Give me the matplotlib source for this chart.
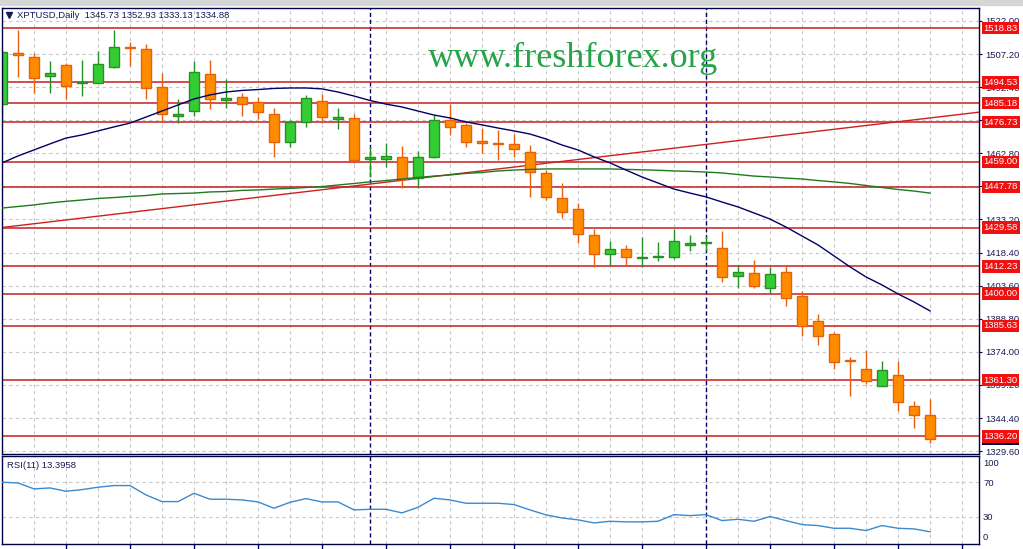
import matplotlib
matplotlib.use("Agg")
import matplotlib.pyplot as plt
from matplotlib.patches import Rectangle
import numpy as np

# ---------------- data ----------------
OPEN = [1484.8, 1507.5, 1505.7, 1497.2, 1502.1, 1494.3, 1494.4, 1501.5, 1510.2, 1509.3,
        1492.3, 1479.3, 1481.6, 1498.3, 1486.6, 1488.1, 1485.6, 1480.2, 1467.7, 1476.9,
        1486.0, 1478.0, 1478.5, 1460.1, 1460.4, 1461.0, 1451.6, 1461.3, 1477.7, 1475.4,
        1468.3, 1467.3, 1466.8, 1463.2, 1453.8, 1442.7, 1437.7, 1426.1, 1417.6, 1419.9,
        1415.8, 1416.3, 1416.3, 1421.9, 1422.6, 1420.3, 1408.1, 1409.1, 1402.5, 1409.6,
        1399.0, 1387.8, 1382.0, 1370.5, 1366.3, 1358.9, 1363.6, 1349.8, 1345.73]
HIGH = [1509.0, 1518.0, 1507.8, 1504.1, 1503.3, 1504.5, 1508.5, 1517.9, 1512.4, 1511.7,
        1498.8, 1487.1, 1504.1, 1504.5, 1496.0, 1489.6, 1488.1, 1482.9, 1477.7, 1488.9,
        1489.3, 1482.9, 1480.4, 1465.8, 1467.3, 1466.1, 1463.8, 1479.9, 1484.8, 1476.2,
        1474.0, 1473.2, 1471.4, 1466.5, 1455.3, 1449.4, 1440.4, 1428.9, 1423.6, 1421.8,
        1425.2, 1423.0, 1428.9, 1426.3, 1425.8, 1428.0, 1412.8, 1415.1, 1411.8, 1412.8,
        1401.3, 1390.9, 1383.0, 1371.9, 1374.8, 1369.9, 1369.9, 1351.8, 1352.93]
LOW = [1478.6, 1496.9, 1489.6, 1489.9, 1487.2, 1488.4, 1494.2, 1501.1, 1502.0, 1486.9,
       1476.7, 1476.2, 1479.6, 1482.5, 1482.9, 1479.6, 1478.0, 1461.3, 1465.5, 1474.4,
       1476.2, 1473.5, 1458.6, 1452.0, 1456.8, 1447.1, 1447.1, 1460.6, 1471.0, 1465.5,
       1463.1, 1459.8, 1461.3, 1443.4, 1441.9, 1433.7, 1422.5, 1411.8, 1412.8, 1412.8,
       1412.1, 1414.6, 1415.7, 1419.2, 1419.2, 1405.4, 1402.4, 1402.7, 1400.1, 1394.4,
       1381.1, 1377.0, 1366.3, 1354.4, 1359.6, 1358.9, 1347.5, 1339.8, 1333.13]
CLOSE = [1508.1, 1506.9, 1496.3, 1498.6, 1493.0, 1494.9, 1502.6, 1510.2, 1509.8, 1491.9,
         1480.3, 1480.3, 1499.0, 1487.2, 1487.4, 1484.8, 1481.1, 1467.7, 1476.8, 1487.4,
         1478.9, 1478.9, 1459.8, 1461.3, 1461.4, 1451.3, 1461.0, 1477.7, 1474.4, 1467.7,
         1467.3, 1467.0, 1464.6, 1454.4, 1443.1, 1436.7, 1426.6, 1417.6, 1419.9, 1416.3,
         1416.4, 1416.9, 1423.6, 1422.5, 1422.8, 1407.6, 1409.6, 1403.6, 1408.8, 1398.0,
         1385.6, 1381.2, 1369.6, 1369.9, 1361.1, 1365.9, 1351.4, 1345.6, 1334.88]

MA_FAST = [1458.5, 1461.6, 1464.3, 1467.0, 1469.6, 1471.0, 1472.8, 1474.6, 1476.3, 1479.0,
           1481.7, 1484.4, 1487.1, 1488.9, 1490.2, 1490.9, 1491.3, 1491.8, 1492.0, 1492.0,
           1491.6, 1490.2, 1488.4, 1486.4, 1484.8, 1483.5, 1481.7, 1479.9, 1478.6, 1476.8,
           1475.5, 1474.1, 1472.8, 1471.4, 1469.2, 1466.5, 1464.3, 1461.2, 1458.5, 1455.3,
           1452.2, 1449.5, 1446.8, 1445.0, 1443.3, 1441.0, 1438.8, 1436.1, 1433.4, 1429.8,
           1425.8, 1421.8, 1416.9, 1412.0, 1407.5, 1403.9, 1399.9, 1396.3, 1392.3]
MA_SLOW = [1438.3, 1439.0, 1439.7, 1440.6, 1441.3, 1441.9, 1442.6, 1443.0, 1443.5, 1443.9,
           1444.6, 1444.8, 1445.0, 1445.5, 1445.7, 1446.2, 1446.4, 1446.8, 1447.1, 1447.5,
           1447.9, 1448.6, 1449.3, 1450.0, 1450.6, 1451.3, 1452.0, 1452.6, 1453.1, 1453.8,
           1454.2, 1454.9, 1455.3, 1455.6, 1455.8, 1455.8, 1455.8, 1455.8, 1455.8, 1455.6,
           1455.4, 1455.2, 1454.9, 1454.7, 1454.4, 1454.0, 1453.3, 1452.6, 1452.2, 1451.7,
           1451.3, 1450.6, 1450.0, 1449.3, 1448.4, 1447.5, 1446.6, 1445.9, 1445.0]
RSI = [70.0, 69.2, 62.4, 63.5, 59.7, 61.6, 64.3, 66.2, 66.2, 55.5,
       47.9, 47.9, 57.4, 50.6, 50.6, 49.8, 47.5, 40.3, 47.1, 51.3,
       47.5, 47.5, 38.4, 39.1, 39.1, 35.0, 41.4, 51.7, 49.8, 46.0,
       46.0, 46.0, 44.5, 38.4, 32.7, 29.2, 27.0, 23.5, 25.4, 24.7,
       24.7, 25.4, 33.0, 31.9, 33.0, 26.2, 27.7, 25.4, 30.8, 26.2,
       21.6, 20.5, 17.4, 17.4, 14.8, 20.5, 17.4, 16.7, 13.4]

TREND_POINTS = [(0, 1429.6), (58, 1478.6)]
LEVELS = [1518.83, 1494.53, 1485.18, 1476.73, 1459.00, 1447.78, 1429.58,
          1412.23, 1400.00, 1385.63, 1361.30, 1336.20]
PRICE_TICKS = [1522.00, 1507.20, 1492.40, 1477.60, 1462.80, 1448.00, 1433.20,
               1418.40, 1403.60, 1388.80, 1374.00, 1359.20, 1344.40, 1329.60]
HIDDEN_TICK_LABELS = [1477.60, 1448.00]   # fully covered by level boxes in the reference
LAST_PRICE = 1334.88
RSI_TICKS = [100, 70, 30, 0]
SEPARATORS = [23, 44]
TITLE = "XPTUSD,Daily  1345.73 1352.93 1333.13 1334.88"
RSI_LABEL = "RSI(11) 13.3958"
WATERMARK = "www.freshforex.org"

# ---------------- figure ----------------
W, H = 1023, 549
fig = plt.figure(figsize=(W / 100, H / 100), dpi=100)
fig.patch.set_facecolor("white")

def fy(y):
    return 1 - y / H

FRAME = "#000045"
TXT = "#1b1b55"
GRIDC = "#c8c8c8"
FONT = "Liberation Sans"

left, right = 2, 979
ax = fig.add_axes([left / W, fy(454), (right - left) / W, (454 - 7.5) / H])
ax2 = fig.add_axes([left / W, fy(543.5), (right - left) / W, (543.5 - 456) / H])

n = len(OPEN)
xs = np.arange(n)
xmax = (right - left) / 16.0
for a in (ax, ax2):
    a.set_xlim(0, xmax)
    for s in a.spines.values():
        s.set_color(FRAME)
        s.set_linewidth(1.0)
    a.set_facecolor("white")

ax.set_ylim(1328.3, 1528.0)
ax2.set_ylim(0, 100)

# grid
dash = (0, (3, 3))
for gx in range(2, int(xmax) + 1, 2):
    ax.axvline(gx, color=GRIDC, lw=0.8, ls=dash, zorder=0.5)
    ax2.axvline(gx, color=GRIDC, lw=0.8, ls=dash, zorder=0.5)
for gy in PRICE_TICKS:
    ax.axhline(gy, color=GRIDC, lw=0.8, ls=dash, zorder=0.5)
for gy in (70, 30):
    ax2.axhline(gy, color=GRIDC, lw=0.8, ls=dash, zorder=0.5)

# separators
for sx in SEPARATORS:
    ax.axvline(sx, color="#000060", lw=1.0, ls=(0, (3, 2)), zorder=0.8)
    ax2.axvline(sx, color="#000060", lw=1.0, ls=(0, (3, 2)), zorder=0.8)

# horizontal levels
for lv in LEVELS:
    ax.axhline(lv, color="#c81e1e", lw=1.1, zorder=1)

# trend line
ax.axline(TREND_POINTS[0], TREND_POINTS[1], color="#cc2020", lw=1.0, zorder=1.1)

# candles
o = np.array(OPEN); c = np.array(CLOSE); h = np.array(HIGH); l = np.array(LOW)
bull = c >= o
fill = np.where(bull, "#33cc33", "#ff8c00")
edge = np.where(bull, "#259125", "#e8600c")
ax.vlines(xs, l, h, colors=edge, lw=1.0, zorder=2)
bottom = np.minimum(o, c)
height = np.maximum(np.abs(c - o), 0.35)
ax.bar(xs, height, bottom=bottom, width=0.68, color=fill, edgecolor=edge,
       linewidth=1.0, zorder=2.5)

# moving averages
ax.plot(xs, MA_SLOW, color="#1f7a1f", lw=1.0, zorder=3)
ax.plot(xs, MA_FAST, color="#000066", lw=1.0, zorder=3)

# RSI
ax2.plot(xs, RSI, color="#3a8ad0", lw=1.0, zorder=3)

# axis ticks
ax.set_xticks([])
ax.yaxis.tick_right()
ax.set_yticks(PRICE_TICKS)
ax.set_yticklabels(["" if v in HIDDEN_TICK_LABELS else f"{v:.2f}" for v in PRICE_TICKS])
ax.tick_params(axis="y", direction="out", length=2.5, width=0.8, color=FRAME,
               labelsize=6.8, labelcolor=TXT, pad=2)
for t in ax.get_yticklabels():
    t.set_fontfamily(FONT)

ax2.set_yticks([])
ax2.set_xticks(list(range(4, int(xmax) + 1, 4)))
ax2.set_xticklabels([])
ax2.tick_params(axis="x", direction="out", length=4.5, width=1.0, color=FRAME)

# current price label (mostly hidden behind the 1336.20 box)
ax.annotate(f"{LAST_PRICE:.2f}", xy=(1.0, LAST_PRICE), xycoords=("axes fraction", "data"),
            xytext=(3.2, 0), textcoords="offset points", ha="left", va="center",
            fontsize=6.8, family=FONT, color="white", annotation_clip=False,
            bbox=dict(boxstyle="square,pad=0.18", fc="#000050", ec="none"),
            zorder=9)

# level labels
for lv in LEVELS:
    ax.annotate(f"{lv:.2f}", xy=(1.0, lv), xycoords=("axes fraction", "data"),
                xytext=(3.2, 0), textcoords="offset points", ha="left", va="center",
                fontsize=6.8, family=FONT, color="white", annotation_clip=False,
                bbox=dict(boxstyle="square,pad=0.18", fc="#f01010", ec="none"),
                zorder=10)

# RSI scale labels
rsi_y = {100: 463, 70: 483, 30: 517, 0: 537}
for v in RSI_TICKS:
    fig.text(983 / W, fy(rsi_y[v]), str(v), ha="left", va="center", fontsize=6.8,
             family=FONT, color=TXT)

# titles
fig.lines.append(plt.Line2D([9 / W], [fy(15)], marker="v", markersize=4.5,
                            color="#1b1b55", transform=fig.transFigure, linestyle="none"))
fig.text(17 / W, fy(15.5), TITLE, ha="left", va="center", fontsize=6.8,
         family=FONT, color=TXT)
fig.text(7 / W, fy(465), RSI_LABEL, ha="left", va="center", fontsize=6.8,
         family=FONT, color=TXT)

# watermark
fig.text(573.5 / W, fy(67), WATERMARK, ha="center", va="baseline", fontsize=26,
         family="Liberation Serif", color="#27a34a")

# top grey band
fig.patches.append(Rectangle((0, fy(5)), 1, 5 / H, transform=fig.transFigure,
                             color="#d6d6d6", zorder=0))

fig.savefig("out.png", dpi=100)
